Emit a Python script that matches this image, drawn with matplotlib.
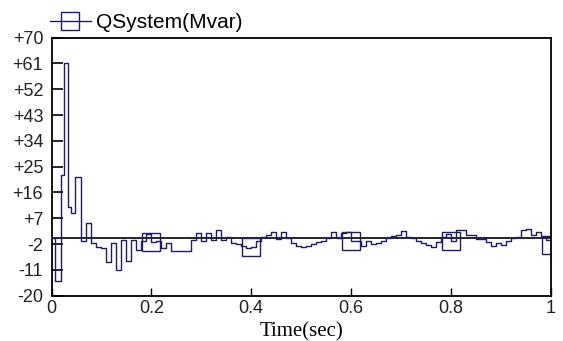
import matplotlib
matplotlib.use("Agg")
import matplotlib.pyplot as plt
import numpy as np

# ---- data ----
t_early = [0.0, 0.007, 0.02, 0.025, 0.033, 0.04, 0.047]
q_early = [0.0, -15.0, 22.0, 61.0, 11.0, 9.0, 21.5]

t_step = 0.01
t_start = 0.06
q_rest = [
    -1.0, 5.3, -1.5, -2.9, -3.4, -8.1, -1.5, -11.0, -0.5, -8.0,   # 0.06-0.15
    -0.5, -4.0, -1.0, 1.5, -1.4, -1.0, -3.4, -1.7, -4.5, -4.5,    # 0.16-0.25
    -4.5, -4.5, -0.5, 1.8, -1.0, 2.0, -0.5, 3.0, -0.5, 0.5,       # 0.26-0.35
    -1.5, -2.0, -2.5, -3.5, -3.0, -1.0, 0.6, 1.2, 2.3, -0.3,      # 0.36-0.45
    2.3, 0.0, -1.7, -2.5, -2.9, -2.5, -2.0, -1.3, -0.8, 0.0,      # 0.46-0.55
    2.3, 0.0, 1.8, 2.3, -1.0, -1.0, -2.5, -1.0, -2.0, -1.7,       # 0.56-0.65
    -1.0, 0.0, 0.8, 1.2, 2.6, 0.6, 0.0, -1.0, -1.7, -2.2,         # 0.66-0.75
    -2.9, -1.2, 0.5, 1.5, -1.0, 3.0, 3.0, 1.2, 1.0, -0.3,         # 0.76-0.85
    -0.3, -1.2, -2.6, -1.7, -2.2, -0.8, 0.0, 0.6, 3.0, 3.2,       # 0.86-0.95
    1.2, 2.3, 0.6, -0.5, -2.3,                                    # 0.96-1.00
]
t_rest = [round(t_start + i * t_step, 3) for i in range(len(q_rest))]

time = np.array(t_early + t_rest)
qsys = np.array(q_early + q_rest)

marker_times = [0.2, 0.4, 0.6, 0.8, 1.0]
y_ticks = [-20, -11, -2, 7, 16, 25, 34, 43, 52, 61, 70]
y_labels = ["-20", "-11", "-2", "+7", "+16", "+25", "+34", "+43", "+52", "+61", "+70"]
x_ticks = [0, 0.2, 0.4, 0.6, 0.8, 1.0]
x_labels = ["0", "0.2", "0.4", "0.6", "0.8", "1"]

# ---- figure ----
W, H = 563, 341
fig = plt.figure(figsize=(W / 100, H / 100), dpi=100)
ax = fig.add_axes([51.5 / W, 1 - 295.7 / H, (550.5 - 51.5) / W, (295.7 - 37.7) / H])

line_color = "#1c1c6b"
mark_idx = [int(np.argmin(np.abs(time - mt))) for mt in marker_times]

ax.axhline(0, color="black", lw=1.2, zorder=1)
ln, = ax.plot(time, qsys, drawstyle="steps-post", color=line_color, lw=1.0,
              marker="s", markevery=mark_idx, markersize=12.5,
              markerfacecolor="none", markeredgecolor=line_color,
              markeredgewidth=1.0, label="QSystem(Mvar)", zorder=2, clip_on=True)

ax.set_xlim(0, 1)
ax.set_ylim(-20, 70)
ax.set_yticks(y_ticks)
ax.set_yticklabels(y_labels, fontfamily="Liberation Sans", fontsize=13, color="#222222")
ax.set_xticks(x_ticks)
ax.set_xticklabels(x_labels, fontfamily="Liberation Sans", fontsize=13, color="#222222")
ax.tick_params(axis="y", direction="in", length=8, width=1.2, pad=6, colors="black")
ax.tick_params(axis="x", direction="in", length=6, width=1.0, pad=3, colors="black")
for lab in ax.get_xticklabels() + ax.get_yticklabels():
    lab.set_color("#222222")
for s in ax.spines.values():
    s.set_linewidth(1.3)
    s.set_color("black")

ax.set_xlabel("Time(sec)", fontfamily="Liberation Serif", fontsize=15, labelpad=4)

fig.legend(handles=[ln], loc="center left", bbox_to_anchor=(50 / W, 1 - 23 / H),
           frameon=False, handlelength=1.95, handletextpad=0.25,
           borderpad=0, borderaxespad=0, prop={"family": "Liberation Sans", "size": 15})

fig.savefig("out.png", dpi=100, facecolor="white")
